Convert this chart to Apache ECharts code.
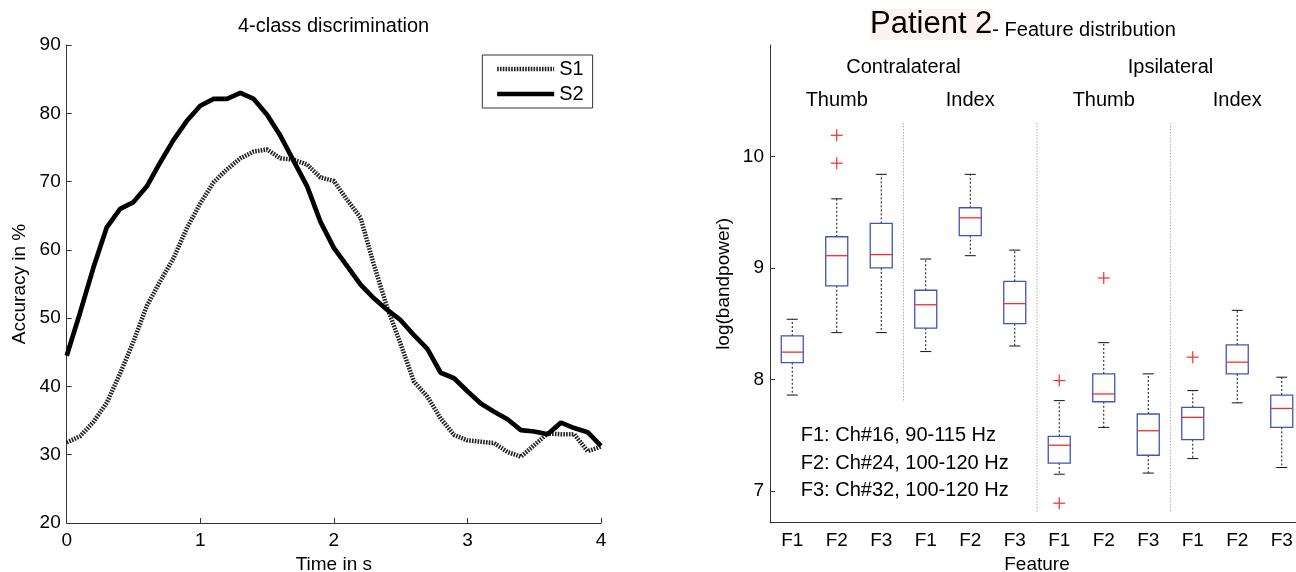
<!DOCTYPE html>
<html><head><meta charset="utf-8">
<script src="https://cdn.jsdelivr.net/npm/echarts@6/dist/echarts.min.js"></script>
<style>html,body{margin:0;padding:0;background:#fff}#c{width:1296px;height:572px}</style>
</head><body><div id="c"></div>
<script>
// ---------- Left chart data ----------
const timeS = [0,0.1,0.2,0.3,0.4,0.5,0.6,0.7,0.8,0.9,1.0,1.1,1.2,1.3,1.4,1.5,1.6,1.7,1.8,1.9,2.0,2.1,2.2,2.3,2.4,2.5,2.6,2.7,2.8,2.9,3.0,3.1,3.2,3.3,3.4,3.5,3.6,3.7,3.8,3.9,4.0];
const s1 = [31.8,32.7,34.8,37.6,41.9,46.6,51.8,55.4,58.8,63.2,66.8,69.9,71.8,73.4,74.4,74.7,73.4,73.2,72.5,70.6,70.1,67.3,64.7,57.8,51.5,46.2,40.7,38.5,35.3,32.9,32.1,31.9,31.7,30.4,29.7,31.4,33.1,33.0,33.0,30.5,31.2];
const s2 = [44.5,50.8,57.4,63.3,66.0,67.0,69.3,72.8,76.1,78.9,81.1,82.1,82.1,83.0,82.1,79.8,76.7,73.0,69.3,64.1,60.3,57.6,54.9,52.9,51.2,49.7,47.5,45.5,42.0,41.2,39.3,37.5,36.3,35.2,33.6,33.4,33.0,34.7,33.9,33.3,31.3];
const xTicks = [0,1,2,3,4];
const yTicksLeft = [20,30,40,50,60,70,80,90];

// ---------- Right chart data ----------
const featureLabels = ['F1','F2','F3','F1','F2','F3','F1','F2','F3','F1','F2','F3'];
// [min, q1, median, q3, max]
const boxStats = [
  [7.86, 8.15, 8.245, 8.39, 8.54],
  [8.42, 8.84, 9.11, 9.28, 9.62],
  [8.42, 9.00, 9.12, 9.40, 9.84],
  [8.25, 8.46, 8.67, 8.80, 9.08],
  [9.11, 9.29, 9.45, 9.54, 9.84],
  [8.30, 8.50, 8.68, 8.88, 9.16],
  [7.15, 7.25, 7.41, 7.49, 7.81],
  [7.57, 7.80, 7.87, 8.05, 8.33],
  [7.16, 7.32, 7.54, 7.69, 8.05],
  [7.29, 7.46, 7.66, 7.75, 7.90],
  [7.79, 8.05, 8.155, 8.31, 8.62],
  [7.21, 7.57, 7.74, 7.86, 8.02]
];
// [featureIndex, value]
const outliers = [[1,10.19],[1,9.94],[6,7.99],[6,6.89],[7,8.91],[9,8.20]];
const yTicksRight = [7,8,9,10];
const sideLabels = ['Contralateral','Ipsilateral'];
const fingerLabels = ['Thumb','Index','Thumb','Index'];
const featureNotes = ['F1: Ch#16, 90-115 Hz','F2: Ch#24, 100-120 Hz','F3: Ch#32, 100-120 Hz'];

// ---------- layout constants (not data) ----------
const FONT = '"Liberation Sans", Arial, sans-serif';
const AX = '#333';
const sideLabelY = 10.8, fingerLabelY = 10.5;
const noteY = [7.5, 7.25, 7.0];
const sepTop = 10.3, sepBottoms = [7.8, 6.81, 6.81];

const chart = echarts.init(document.getElementById('c'), null, {renderer:'canvas'});

function midX(api, i){ // x midway between category i and i+1
  const a = api.coord([i, 8])[0], b = api.coord([i+1, 8])[0];
  return (a+b)/2;
}

const option = {
  backgroundColor:'#fff',
  animation:false,
  textStyle:{fontFamily:FONT, color:'#000'},
  title:[
    {text:'4-class discrimination', left:233, top:11,
     textStyle:{fontFamily:FONT, fontSize:20, fontWeight:'normal', color:'#000'}},
    {text:'{a|Patient 2}{b|- Feature distribution}', left:865, top:1,
     textStyle:{rich:{
       a:{fontFamily:FONT, fontSize:31, fontWeight:'normal', color:'#000', verticalAlign:'bottom', lineHeight:34, backgroundColor:'#fcf2f2'},
       b:{fontFamily:FONT, fontSize:20, fontWeight:'normal', color:'#000', verticalAlign:'bottom', lineHeight:30}
     }}}
  ],
  legend:{
    data:['S1','S2'], orient:'vertical', left:482.3, top:55,
    borderColor:'#333', borderWidth:1, padding:[4,9,4,12.5],
    itemWidth:57, itemHeight:14, itemGap:5,
    itemStyle:{opacity:0},
    lineStyle:{width:'inherit'},
    textStyle:{fontFamily:FONT, fontSize:20, color:'#000'}
  },
  grid:[
    {left:66.7, right:695, top:45, bottom:49, outerBoundsMode:'none', containLabel:false},
    {left:770, width:534, top:45, bottom:49.3, outerBoundsMode:'none', containLabel:false}
  ],
  xAxis:[
    {gridIndex:0, type:'value', min:0, max:4, interval:1,
     name:'Time in s', nameLocation:'middle', nameGap:32,
     nameTextStyle:{fontFamily:FONT, fontSize:19, color:'#000'},
     axisLine:{lineStyle:{color:AX, width:1}},
     axisTick:{inside:true, length:5, lineStyle:{color:AX}},
     axisLabel:{fontFamily:FONT, fontSize:19, color:'#000', margin:8, customValues:xTicks},
     splitLine:{show:false}},
    {gridIndex:1, type:'category', data:featureLabels, boundaryGap:true,
     name:'Feature', nameLocation:'middle', nameGap:33,
     nameTextStyle:{fontFamily:FONT, fontSize:19, color:'#000'},
     axisLine:{lineStyle:{color:AX, width:1}},
     axisTick:{inside:true, length:5, alignWithLabel:true, lineStyle:{color:AX}},
     axisLabel:{fontFamily:FONT, fontSize:19, color:'#000', margin:9, interval:0},
     splitLine:{show:false}}
  ],
  yAxis:[
    {gridIndex:0, type:'value', min:20, max:90, interval:10,
     name:'Accuracy in %', nameLocation:'middle', nameGap:37,
     nameTextStyle:{fontFamily:FONT, fontSize:19, color:'#000'},
     axisLine:{show:true, lineStyle:{color:AX, width:1}},
     axisTick:{show:true, inside:true, length:5, lineStyle:{color:AX}},
     axisLabel:{fontFamily:FONT, fontSize:19, color:'#000', margin:6, customValues:yTicksLeft},
     splitLine:{show:false}},
    {gridIndex:1, type:'value', min:6.715, max:11,
     name:'log(bandpower)', nameLocation:'middle', nameGap:37,
     nameTextStyle:{fontFamily:FONT, fontSize:19, color:'#000'},
     axisLine:{show:true, lineStyle:{color:AX, width:1}},
     axisTick:{show:true, inside:true, length:5, customValues:yTicksRight, lineStyle:{color:AX}},
     axisLabel:{fontFamily:FONT, fontSize:19, color:'#000', margin:6, customValues:yTicksRight},
     splitLine:{show:false}}
  ],
  series:[
    {name:'S1', type:'line', xAxisIndex:0, yAxisIndex:0, symbol:'none', smooth:false,
     data:timeS.map((t,i)=>[t, s1[i]]),
     itemStyle:{color:'#222'},
     lineStyle:{color:'#222', width:4.5, type:[1.6,1.2]}},
    {name:'S2', type:'line', xAxisIndex:0, yAxisIndex:0, symbol:'none', smooth:false,
     data:timeS.map((t,i)=>[t, s2[i]]),
     itemStyle:{color:'#000'},
     lineStyle:{color:'#000', width:4.7}},
    // group separators
    {type:'custom', xAxisIndex:1, yAxisIndex:1, silent:true,
     data:[[2],[5],[8]],
     renderItem:function(params, api){
       const i = api.value(0);
       const x = midX(api, i);
       const k = params.dataIndex;
       const y1 = api.coord([i, sepTop])[1], y2 = api.coord([i, sepBottoms[k]])[1];
       return {type:'line', shape:{x1:x, y1:y1, x2:x, y2:y2},
               style:{stroke:'#b0b0b0', lineWidth:1, lineDash:[1.5,1.5]}};
     }},
    // boxplots
    {type:'custom', xAxisIndex:1, yAxisIndex:1, silent:true,
     data:boxStats.map((s,i)=>[i].concat(s)),
     encode:{x:0, y:[1,2,3,4,5]},
     renderItem:function(params, api){
       const i = api.value(0);
       const x = api.coord([i, 8])[0];
       const yMin = api.coord([i, api.value(1)])[1];
       const yQ1 = api.coord([i, api.value(2)])[1];
       const yMed = api.coord([i, api.value(3)])[1];
       const yQ3 = api.coord([i, api.value(4)])[1];
       const yMax = api.coord([i, api.value(5)])[1];
       const bw = 22, cw = 11;
       const blk = {stroke:'#111', lineWidth:1, lineDash:[2,2]};
       return {type:'group', children:[
         {type:'line', shape:{x1:x,y1:yQ3,x2:x,y2:yMax}, style:blk},
         {type:'line', shape:{x1:x,y1:yQ1,x2:x,y2:yMin}, style:blk},
         {type:'line', shape:{x1:x-cw/2,y1:yMax,x2:x+cw/2,y2:yMax}, style:{stroke:'#111', lineWidth:1}},
         {type:'line', shape:{x1:x-cw/2,y1:yMin,x2:x+cw/2,y2:yMin}, style:{stroke:'#111', lineWidth:1}},
         {type:'rect', shape:{x:x-bw/2, y:yQ3, width:bw, height:yQ1-yQ3},
          style:{fill:'none', stroke:'#3f56b8', lineWidth:1.3}},
         {type:'line', shape:{x1:x-bw/2,y1:yMed,x2:x+bw/2,y2:yMed}, style:{stroke:'#ff2a2a', lineWidth:1.3}}
       ]};
     }},
    // outliers
    {type:'custom', xAxisIndex:1, yAxisIndex:1, silent:true,
     data:outliers,
     renderItem:function(params, api){
       const p = api.coord([api.value(0), api.value(1)]);
       const h = 6;
       const st = {stroke:'#ff2a2a', lineWidth:1.2};
       return {type:'group', children:[
         {type:'line', shape:{x1:p[0]-h,y1:p[1],x2:p[0]+h,y2:p[1]}, style:st},
         {type:'line', shape:{x1:p[0],y1:p[1]-h,x2:p[0],y2:p[1]+h}, style:st}
       ]};
     }},
    // side & finger labels
    {type:'custom', xAxisIndex:1, yAxisIndex:1, silent:true,
     data:sideLabels.map((t,k)=>[k*6+2, t]).concat(fingerLabels.map((t,k)=>[k*3+1, t])),
     renderItem:function(params, api){
       const idx = params.dataIndex;
       const i = api.value(0);
       const isSide = idx < sideLabels.length;
       const txt = isSide ? sideLabels[idx] : fingerLabels[idx - sideLabels.length];
       const x = isSide ? midX(api, i) : api.coord([i, 8])[0];
       const y = api.coord([i, isSide ? sideLabelY : fingerLabelY])[1];
       return {type:'text', x:x, y:y, style:{text:txt, fill:'#000', font:'20px ' + FONT,
               textAlign:'center', textVerticalAlign:'middle', verticalAlign:'middle'}};
     }},
    // feature notes
    {type:'custom', xAxisIndex:1, yAxisIndex:1, silent:true,
     data:featureNotes.map((t,k)=>[0, noteY[k]]),
     renderItem:function(params, api){
       const p = api.coord([0, api.value(1)]);
       return {type:'text', x:p[0]+8.5, y:p[1], style:{text:featureNotes[params.dataIndex], fill:'#000',
               font:'20px ' + FONT, textAlign:'left', textVerticalAlign:'middle', verticalAlign:'middle'}};
     }}
  ]
};
chart.setOption(option);
</script>
</body></html>
